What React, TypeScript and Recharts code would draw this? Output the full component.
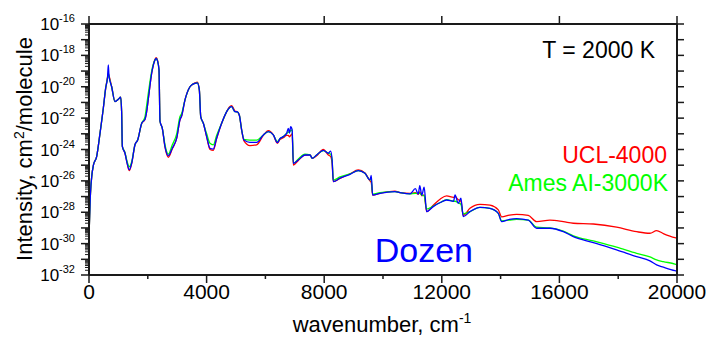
import { LineChart, Line, XAxis, YAxis } from "recharts";

// log10 of the intensity
const wavenumber = [
  0, 50, 100, 150, 260, 374, 487, 565, 630, 657, 680, 771, 884, 1000, 1077, 1110, 1134, 1224, 1300, 1370,
  1451, 1564, 1655, 1792, 1905, 1960, 2041, 2132, 2190, 2245, 2285, 2330, 2381, 2415, 2494, 2585, 2698, 2834, 2983, 3095,
  3153, 3265, 3435, 3520, 3605, 3685, 3753, 3800, 3889, 4002, 4115, 4228, 4341, 4512, 4682, 4770, 4852, 4965, 5046, 5114,
  5193, 5272, 5476, 5703, 5930, 6100, 6270, 6406, 6500, 6610, 6723, 6780, 6820, 6860, 6910, 6950, 7120, 7346, 7516, 7596,
  7743, 7970, 8140, 8220, 8270, 8310, 8537, 8877, 9160, 9386, 9557, 9600, 9647, 9897, 10407, 10577, 10917, 11100, 11200, 11250,
  11320, 11400, 11484, 11710, 11950, 12165, 12400, 12450, 12560, 12650, 12730, 12958, 13298, 13638, 13922, 14036, 14300, 14546, 14941, 15226,
  15680, 16133, 16473, 17153, 17946, 18627, 19080, 19307, 19534, 19929, 20000,
];

const dozen = [
  -29.6, -26.8, -25.6, -25.0, -24.45, -22.97, -21.37, -20.1, -19.4, -18.6, -19.3, -20.0, -20.95, -20.8, -20.67, -21.6, -23.8, -24.24, -24.9, -25.3,
  -24.88, -23.7, -23.4, -22.33, -22.07, -21.6, -20.42, -19.14, -18.6, -18.29, -18.2, -18.35, -18.93, -22.2, -22.65, -23.82, -24.4, -23.92, -23.28, -22.1,
  -21.85, -20.84, -20.0, -19.85, -19.78, -19.75, -20.2, -21.9, -22.33, -23.18, -23.92, -23.97, -23.28, -22.33, -21.59, -21.35, -21.27, -21.59, -21.6, -21.82,
  -22.76, -23.4, -23.55, -23.55, -23.07, -22.86, -23.07, -23.56, -23.3, -23.18, -22.97, -22.65, -22.95, -22.55, -22.75, -24.88, -24.67, -24.35, -24.35, -24.56,
  -24.35, -24.05, -24.24, -24.1, -24.7, -26.05, -25.83, -25.58, -25.35, -25.52, -25.94, -25.65, -26.9, -26.79, -26.69, -26.75, -26.83, -26.5, -26.85, -26.3,
  -26.9, -26.4, -27.96, -27.64, -27.38, -27.22, -27.3, -26.9, -27.43, -27.1, -28.28, -27.96, -27.69, -27.75, -28.07, -28.6, -28.45, -28.4, -28.5, -29.02,
  -29.02, -29.24, -29.55, -29.94, -30.4, -30.83, -31.1, -31.36, -31.5, -31.72, -31.75,
];

const amesAI3000K = [
  -29.6, -26.8, -25.6, -25.0, -24.45, -22.97, -21.37, -20.1, -19.45, -19.1, -19.35, -20.0, -20.95, -20.8, -20.67, -21.6, -23.8, -24.2, -24.8, -25.1,
  -24.8, -23.7, -23.4, -22.33, -21.9, -21.2, -20.1, -19.0, -18.55, -18.29, -18.2, -18.35, -18.93, -22.2, -22.65, -23.7, -24.3, -23.7, -23.0, -21.9,
  -21.7, -20.84, -20.0, -19.85, -19.78, -19.75, -20.2, -21.9, -22.33, -23.0, -23.6, -23.7, -23.1, -22.33, -21.59, -21.35, -21.27, -21.59, -21.6, -21.82,
  -22.76, -23.35, -23.4, -23.4, -23.07, -22.86, -23.07, -23.5, -23.3, -23.18, -22.97, -22.9, -22.85, -22.8, -22.75, -24.88, -24.6, -24.3, -24.35, -24.56,
  -24.35, -24.07, -24.24, -24.3, -24.7, -25.95, -25.75, -25.55, -25.35, -25.52, -25.94, -25.9, -26.85, -26.75, -26.69, -26.75, -26.83, -26.8, -26.8, -26.8,
  -26.9, -26.95, -27.8, -27.6, -27.38, -27.2, -27.3, -27.3, -27.4, -27.5, -28.1, -27.96, -27.69, -27.75, -28.07, -28.55, -28.5, -28.45, -28.5, -28.95,
  -29.0, -29.2, -29.5, -29.83, -30.23, -30.62, -30.85, -31.04, -31.15, -31.3, -31.35,
];

const ucl4000 = [
  -29.6, -26.8, -25.6, -25.0, -24.45, -22.97, -21.37, -20.15, -19.4, -19.2, -19.3, -20.0, -20.95, -20.8, -20.67, -21.6, -23.8, -24.24, -24.9, -25.35,
  -24.9, -23.7, -23.4, -22.35, -22.07, -21.6, -20.42, -19.14, -18.6, -18.25, -18.15, -18.3, -18.93, -22.2, -22.65, -23.85, -24.5, -23.95, -23.28, -22.1,
  -21.85, -20.84, -20.0, -19.85, -19.75, -19.7, -20.2, -21.9, -22.33, -23.2, -24.0, -24.05, -23.3, -22.33, -21.59, -21.3, -21.2, -21.55, -21.6, -21.82,
  -22.76, -23.45, -23.75, -23.7, -23.1, -22.8, -23.07, -23.6, -23.35, -23.25, -23.1, -23.1, -23.2, -23.1, -23.0, -25.0, -24.7, -24.35, -24.35, -24.56,
  -24.4, -24.0, -24.35, -24.45, -24.9, -26.05, -25.85, -25.55, -25.3, -25.5, -26.0, -26.1, -26.9, -26.79, -26.65, -26.75, -26.8, -26.75, -26.85, -26.7,
  -26.95, -26.9, -27.96, -27.55, -27.15, -26.96, -27.05, -27.0, -27.2, -27.3, -28.2, -27.75, -27.5, -27.55, -27.85, -28.3, -28.18, -28.13, -28.2, -28.6,
  -28.5, -28.6, -28.7, -28.75, -28.95, -29.24, -29.34, -29.17, -29.36, -29.62, -29.65,
];

const xTicks = [0, 2000, 4000, 6000, 8000, 10000, 12000, 14000, 16000, 18000, 20000];
const topTicks = [0, 4000, 8000, 12000, 16000, 20000];
const decades = [-32, -31, -30, -29, -28, -27, -26, -25, -24, -23, -22, -21, -20, -19, -18, -17, -16];

const data = wavenumber.map((wn, i) => ({
  wn,
  ucl: ucl4000[i],
  ames: amesAI3000K[i],
  dozen: dozen[i],
}));

// major decade ticks plus log minor ticks (2..9)
const leftTicks = decades.flatMap((d) =>
  d === -16 ? [d] : [d, ...[2, 3, 4, 5, 6, 7, 8, 9].map((k) => d + Math.log10(k))]
);

const FONT = '"Liberation Sans", Arial, sans-serif';
const AXIS = "#1a1a1a";

const BottomTick = ({ x, y, payload }: any) => {
  const v = payload.value;
  const major = v % 4000 === 0;
  return (
    <g>
      <line x1={x} x2={x} y1={y} y2={y + (major ? 8 : 4)} stroke={AXIS} strokeWidth={1.5} />
      {major && (
        <text x={x} y={y + 24} textAnchor="middle" fontSize={21} fontFamily={FONT} fill="#000">
          {v}
        </text>
      )}
    </g>
  );
};

const TopTick = ({ x, y }: any) => (
  <line x1={x} x2={x} y1={y} y2={y - 8} stroke={AXIS} strokeWidth={1.5} />
);

const LeftTick = ({ x, y, payload }: any) => {
  const v = payload.value;
  const major = Math.abs(v - Math.round(v)) < 1e-9;
  const labeled = major && Math.round(v) % 2 === 0;
  return (
    <g>
      <line x1={x} x2={x - (major ? 8 : 4)} y1={y} y2={y} stroke={AXIS} strokeWidth={major ? 1.5 : 1} />
      {labeled && (
        <text x={x - 14} y={y + 6} textAnchor="end" fontSize={17} fontFamily={FONT} fill="#000">
          10
          <tspan dy={-8} fontSize={11}>
            {Math.round(v)}
          </tspan>
        </text>
      )}
    </g>
  );
};

const RightTick = ({ x, y }: any) => (
  <line x1={x} x2={x + 7} y1={y} y2={y} stroke={AXIS} strokeWidth={1.5} />
);

export default function App() {
  return (
    <div style={{ position: "absolute", left: 0, top: 0, width: 714, height: 339, background: "#fff" }}>
      <LineChart width={714} height={339} data={data} margin={{ top: 14, right: 17, bottom: 24, left: 29 }}>
        <XAxis
          dataKey="wn"
          type="number"
          domain={[0, 20000]}
          ticks={xTicks}
          interval={0}
          tickSize={0}
          tickMargin={0}
          height={40}
          tick={<BottomTick />}
          axisLine={{ stroke: AXIS, strokeWidth: 2 }}
          allowDataOverflow
        />
        <XAxis
          xAxisId="top"
          orientation="top"
          dataKey="wn"
          type="number"
          domain={[0, 20000]}
          ticks={topTicks}
          interval={0}
          tickSize={0}
          tickMargin={0}
          height={10}
          tick={<TopTick />}
          axisLine={{ stroke: AXIS, strokeWidth: 2 }}
          allowDataOverflow
        />
        <YAxis
          type="number"
          domain={[-32, -16]}
          ticks={leftTicks}
          interval={0}
          tickSize={0}
          tickMargin={0}
          width={60}
          tick={<LeftTick />}
          axisLine={{ stroke: AXIS, strokeWidth: 2 }}
          allowDataOverflow
        />
        <YAxis
          yAxisId="right"
          orientation="right"
          type="number"
          domain={[-32, -16]}
          ticks={decades}
          interval={0}
          tickSize={0}
          tickMargin={0}
          width={20}
          tick={<RightTick />}
          axisLine={{ stroke: AXIS, strokeWidth: 2 }}
          allowDataOverflow
        />
        <Line type="monotone" dataKey="ucl" stroke="#ff0000" strokeWidth={1.3} dot={false} isAnimationActive={false} />
        <Line type="monotone" dataKey="ames" stroke="#00ff00" strokeWidth={1.3} dot={false} isAnimationActive={false} />
        <Line type="monotone" dataKey="dozen" stroke="#0000ff" strokeWidth={1.3} dot={false} isAnimationActive={false} />
      </LineChart>
      <svg
        width={714}
        height={339}
        style={{ position: "absolute", left: 0, top: 0, pointerEvents: "none" }}
        fontFamily={FONT}
      >
        <text transform="translate(32,149) rotate(-90)" textAnchor="middle" fontSize={22} fill="#000">
          Intensity, cm
          <tspan dy={-8} fontSize={14}>2</tspan>
          <tspan dy={8}>/molecule</tspan>
        </text>
        <text x={382} y={332} textAnchor="middle" fontSize={22} fill="#000">
          wavenumber, cm
          <tspan dy={-9} fontSize={14}>-1</tspan>
        </text>
        <text x={655} y={58} textAnchor="end" fontSize={23} fill="#000">
          T = 2000 K
        </text>
        <text x={667} y={163} textAnchor="end" fontSize={23} fill="#ff0000">
          UCL-4000
        </text>
        <text x={668} y={191} textAnchor="end" fontSize={23} fill="#00ff00">
          Ames AI-3000K
        </text>
        <text x={473} y={262} textAnchor="end" fontSize={34} fill="#0000ff">
          Dozen
        </text>
      </svg>
    </div>
  );
}
